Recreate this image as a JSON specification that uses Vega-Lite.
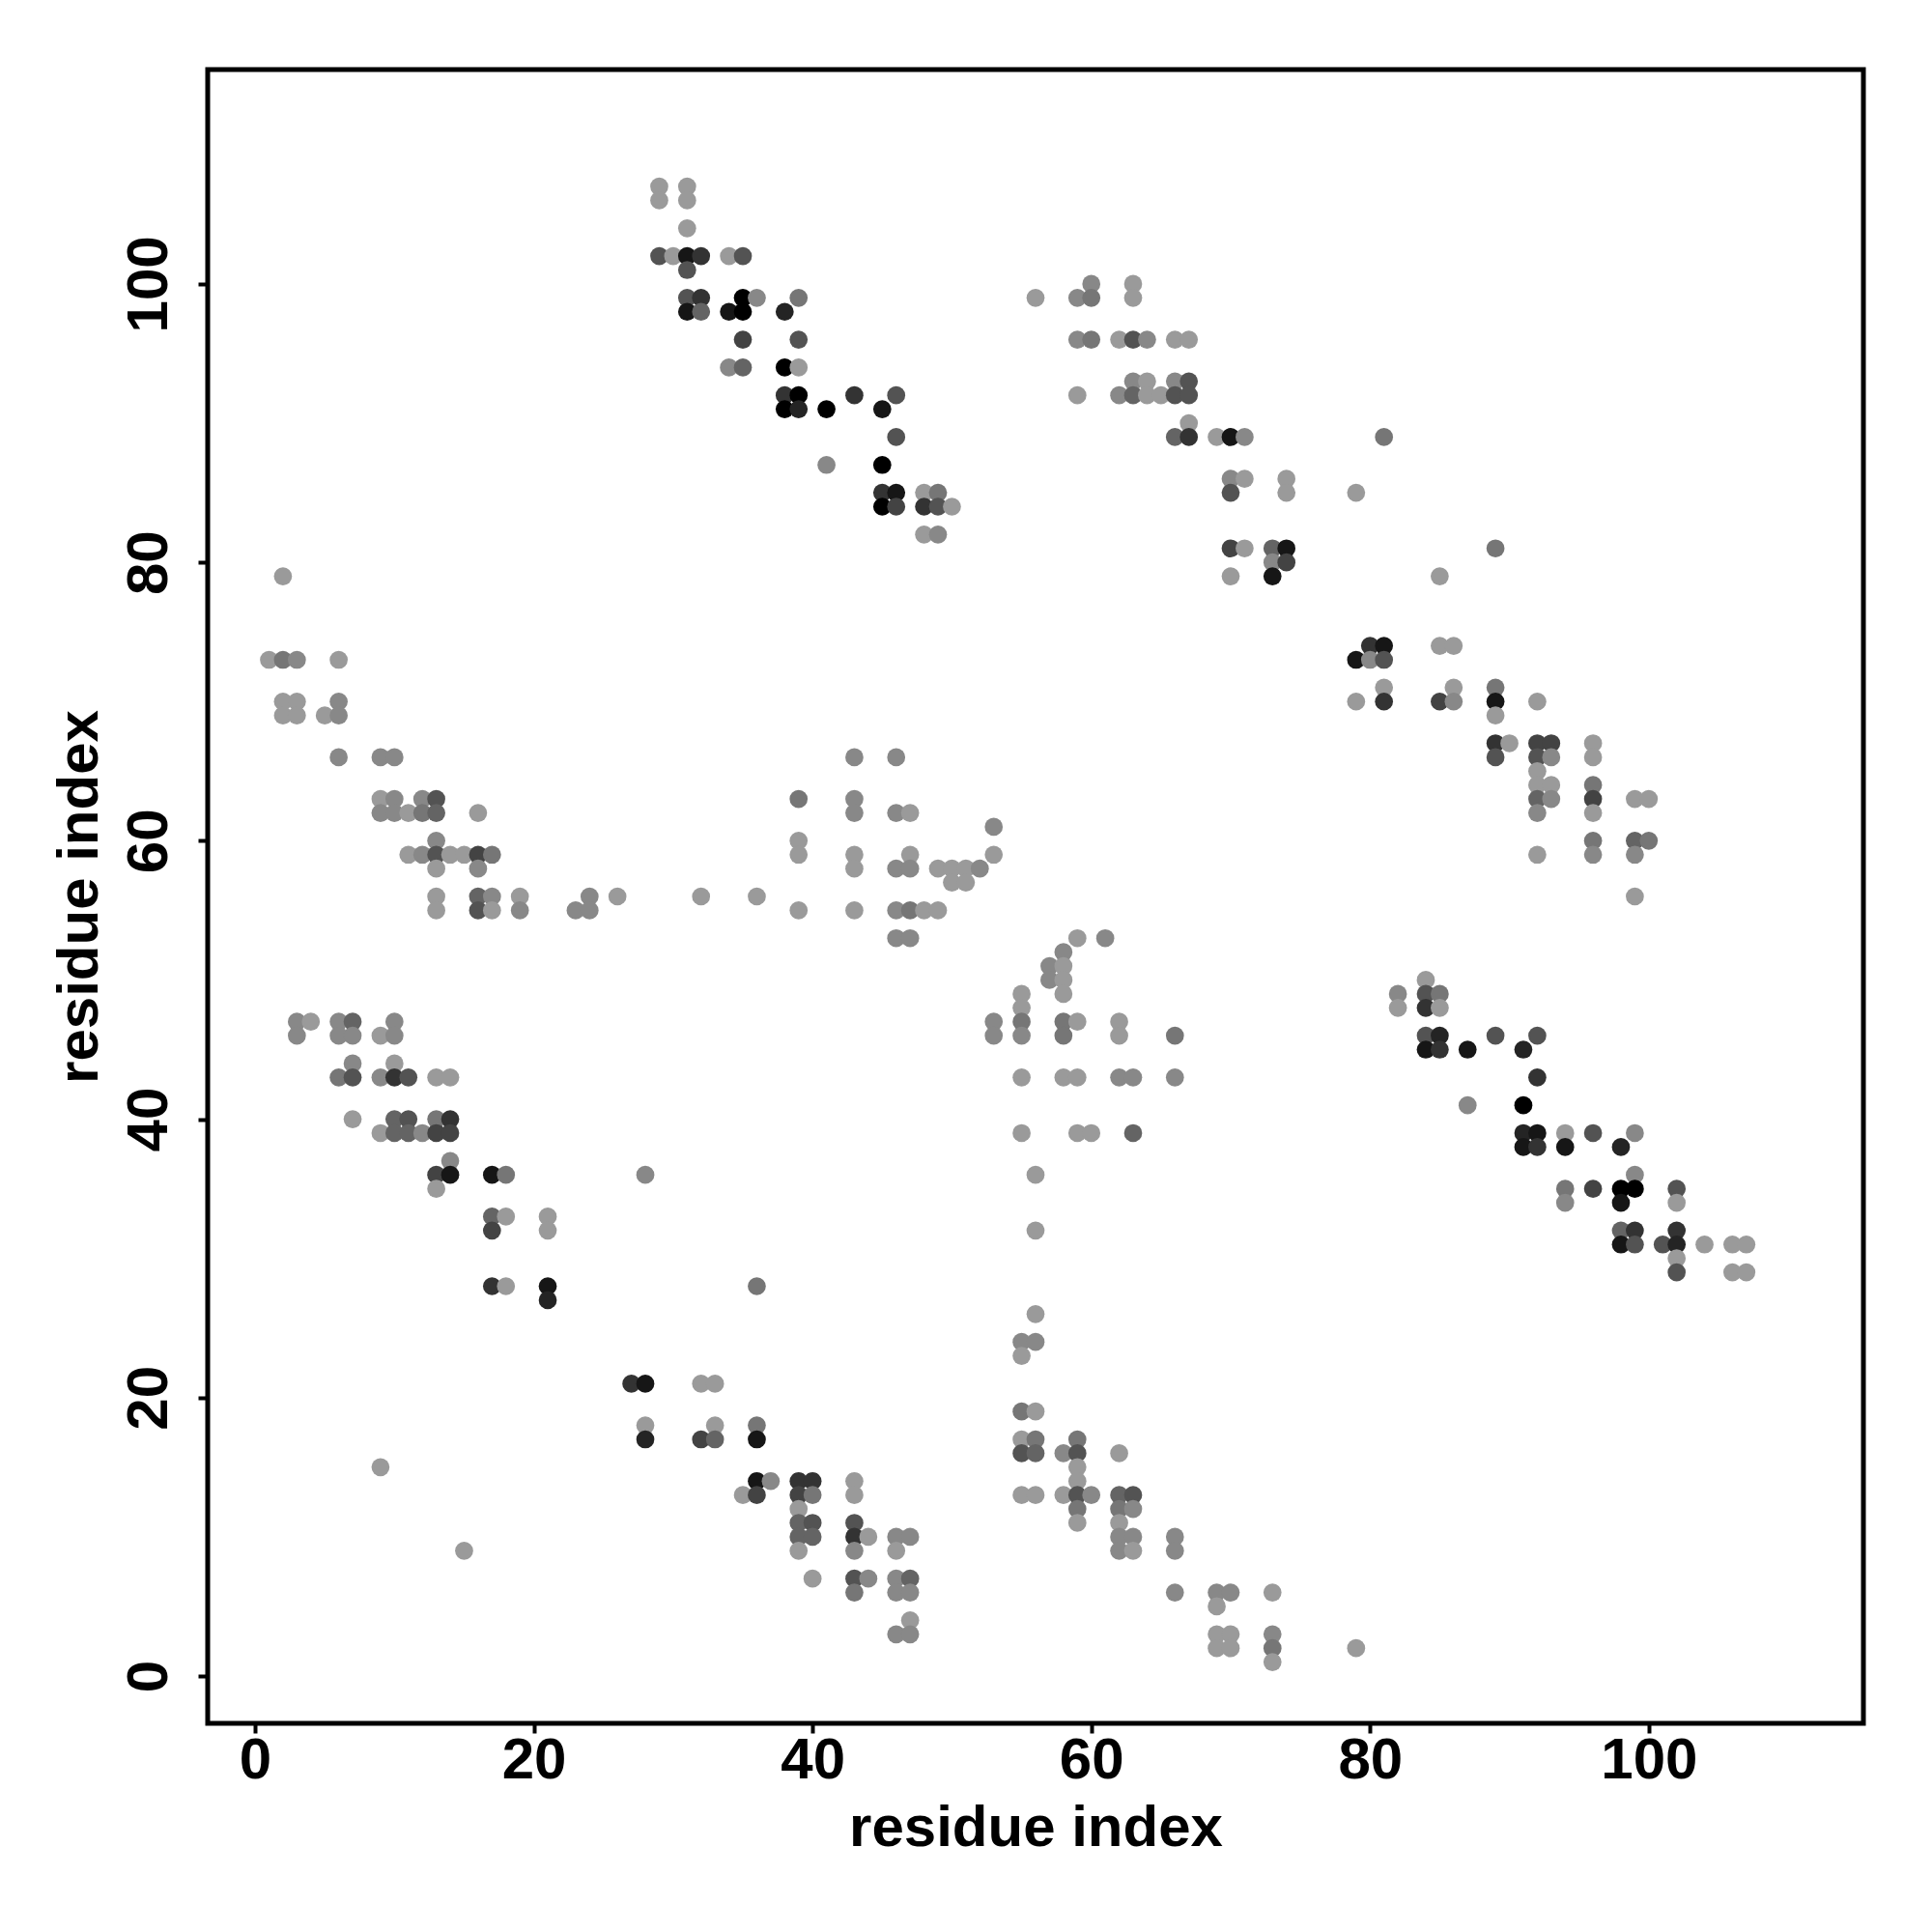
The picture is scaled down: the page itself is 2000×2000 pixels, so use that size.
{
  "$schema": "https://vega.github.io/schema/vega-lite/v6.json",
  "autosize": {"type": "none"},
  "padding": {"left": 215, "top": 72, "right": 71, "bottom": 216},
  "width": 1714,
  "height": 1712,
  "background": "white",
  "config": {
    "view": {"stroke": "#000000", "strokeWidth": 5},
    "font": "Liberation Sans"
  },
  "data": {
    "values": [
      {"x":29,"y":107,"v":0},{"x":31,"y":107,"v":0},{"x":29,"y":106,"v":0},{"x":31,"y":106,"v":0},{"x":31,"y":104,"v":0},
      {"x":29,"y":102,"v":4},{"x":30,"y":102,"v":0},{"x":31,"y":102,"v":8},{"x":32,"y":102,"v":6},{"x":34,"y":102,"v":0},{"x":35,"y":102,"v":4},
      {"x":31,"y":101,"v":4},
      {"x":31,"y":99,"v":4},{"x":32,"y":99,"v":6},{"x":35,"y":99,"v":9},{"x":36,"y":99,"v":1},{"x":39,"y":99,"v":2},
      {"x":31,"y":98,"v":8},{"x":32,"y":98,"v":3},{"x":34,"y":98,"v":8},{"x":35,"y":98,"v":9},{"x":38,"y":98,"v":7},
      {"x":35,"y":96,"v":5},{"x":39,"y":96,"v":4},
      {"x":34,"y":94,"v":1},{"x":35,"y":94,"v":3},{"x":38,"y":94,"v":9},{"x":39,"y":94,"v":0},
      {"x":38,"y":92,"v":6},{"x":39,"y":92,"v":9},{"x":43,"y":92,"v":6},{"x":46,"y":92,"v":4},
      {"x":38,"y":91,"v":9},{"x":39,"y":91,"v":7},{"x":41,"y":91,"v":9},{"x":45,"y":91,"v":8},
      {"x":46,"y":89,"v":4},
      {"x":41,"y":87,"v":1},{"x":45,"y":87,"v":9},
      {"x":45,"y":85,"v":6},{"x":46,"y":85,"v":8},{"x":48,"y":85,"v":0},{"x":49,"y":85,"v":2},
      {"x":45,"y":84,"v":9},{"x":46,"y":84,"v":5},{"x":48,"y":84,"v":6},{"x":49,"y":84,"v":4},{"x":50,"y":84,"v":0},
      {"x":48,"y":82,"v":0},{"x":49,"y":82,"v":1},

      {"x":60,"y":100,"v":1},{"x":63,"y":100,"v":0},
      {"x":56,"y":99,"v":0},{"x":59,"y":99,"v":1},{"x":60,"y":99,"v":2},{"x":63,"y":99,"v":0},
      {"x":59,"y":96,"v":1},{"x":60,"y":96,"v":2},{"x":62,"y":96,"v":0},{"x":63,"y":96,"v":4},{"x":64,"y":96,"v":1},{"x":66,"y":96,"v":0},{"x":67,"y":96,"v":0},
      {"x":63,"y":93,"v":1},{"x":64,"y":93,"v":0},{"x":66,"y":93,"v":1},{"x":67,"y":93,"v":4},
      {"x":59,"y":92,"v":0},{"x":62,"y":92,"v":1},{"x":63,"y":92,"v":3},{"x":64,"y":92,"v":0},{"x":65,"y":92,"v":0},{"x":66,"y":92,"v":4},{"x":67,"y":92,"v":4},
      {"x":67,"y":90,"v":0},
      {"x":66,"y":89,"v":3},{"x":67,"y":89,"v":6},{"x":69,"y":89,"v":0},{"x":70,"y":89,"v":8},{"x":71,"y":89,"v":1},
      {"x":70,"y":86,"v":1},{"x":71,"y":86,"v":0},{"x":74,"y":86,"v":0},
      {"x":70,"y":85,"v":4},{"x":74,"y":85,"v":0},
      {"x":70,"y":81,"v":5},{"x":71,"y":81,"v":0},{"x":73,"y":81,"v":3},{"x":74,"y":81,"v":8},
      {"x":73,"y":80,"v":1},{"x":74,"y":80,"v":5},
      {"x":70,"y":79,"v":0},{"x":73,"y":79,"v":8},
      {"x":79,"y":85,"v":0},{"x":81,"y":89,"v":2},

      {"x":89,"y":81,"v":2},{"x":85,"y":79,"v":0},
      {"x":80,"y":74,"v":6},{"x":81,"y":74,"v":8},{"x":85,"y":74,"v":0},{"x":86,"y":74,"v":0},
      {"x":79,"y":73,"v":8},{"x":80,"y":73,"v":1},{"x":81,"y":73,"v":4},
      {"x":81,"y":71,"v":0},{"x":86,"y":71,"v":0},{"x":89,"y":71,"v":2},
      {"x":79,"y":70,"v":0},{"x":81,"y":70,"v":6},{"x":85,"y":70,"v":5},{"x":86,"y":70,"v":1},{"x":89,"y":70,"v":8},{"x":92,"y":70,"v":0},
      {"x":89,"y":69,"v":0},
      {"x":89,"y":67,"v":6},{"x":90,"y":67,"v":0},{"x":92,"y":67,"v":5},{"x":93,"y":67,"v":5},{"x":96,"y":67,"v":0},
      {"x":89,"y":66,"v":4},{"x":92,"y":66,"v":4},{"x":93,"y":66,"v":1},{"x":96,"y":66,"v":0},
      {"x":92,"y":65,"v":0},
      {"x":92,"y":64,"v":0},{"x":93,"y":64,"v":0},{"x":96,"y":64,"v":2},
      {"x":92,"y":63,"v":3},{"x":93,"y":63,"v":1},{"x":96,"y":63,"v":5},{"x":99,"y":63,"v":0},{"x":100,"y":63,"v":0},
      {"x":92,"y":62,"v":1},{"x":96,"y":62,"v":0},
      {"x":96,"y":60,"v":2},{"x":99,"y":60,"v":3},{"x":100,"y":60,"v":2},
      {"x":92,"y":59,"v":0},{"x":96,"y":59,"v":1},{"x":99,"y":59,"v":1},
      {"x":99,"y":56,"v":0},

      {"x":2,"y":79,"v":0},
      {"x":1,"y":73,"v":0},{"x":2,"y":73,"v":2},{"x":3,"y":73,"v":1},{"x":6,"y":73,"v":0},
      {"x":2,"y":70,"v":0},{"x":3,"y":70,"v":0},{"x":6,"y":70,"v":1},
      {"x":2,"y":69,"v":0},{"x":3,"y":69,"v":0},{"x":5,"y":69,"v":0},{"x":6,"y":69,"v":1},
      {"x":6,"y":66,"v":1},{"x":9,"y":66,"v":1},{"x":10,"y":66,"v":1},
      {"x":9,"y":63,"v":0},{"x":10,"y":63,"v":1},{"x":12,"y":63,"v":1},{"x":13,"y":63,"v":4},
      {"x":9,"y":62,"v":1},{"x":10,"y":62,"v":1},{"x":11,"y":62,"v":0},{"x":12,"y":62,"v":2},{"x":13,"y":62,"v":3},{"x":16,"y":62,"v":0},
      {"x":13,"y":60,"v":1},
      {"x":11,"y":59,"v":0},{"x":12,"y":59,"v":1},{"x":13,"y":59,"v":4},{"x":14,"y":59,"v":0},{"x":15,"y":59,"v":0},{"x":16,"y":59,"v":5},{"x":17,"y":59,"v":2},
      {"x":13,"y":58,"v":0},{"x":16,"y":58,"v":1},
      {"x":13,"y":56,"v":0},{"x":16,"y":56,"v":3},{"x":17,"y":56,"v":1},{"x":19,"y":56,"v":0},{"x":24,"y":56,"v":1},{"x":26,"y":56,"v":0},
      {"x":13,"y":55,"v":0},{"x":16,"y":55,"v":4},{"x":17,"y":55,"v":0},{"x":19,"y":55,"v":1},{"x":23,"y":55,"v":1},{"x":24,"y":55,"v":1},

      {"x":43,"y":66,"v":1},{"x":46,"y":66,"v":1},
      {"x":39,"y":63,"v":2},{"x":43,"y":63,"v":1},
      {"x":43,"y":62,"v":1},{"x":46,"y":62,"v":1},{"x":47,"y":62,"v":0},
      {"x":53,"y":61,"v":1},
      {"x":39,"y":60,"v":0},
      {"x":39,"y":59,"v":0},{"x":43,"y":59,"v":0},{"x":47,"y":59,"v":0},{"x":53,"y":59,"v":0},
      {"x":43,"y":58,"v":0},{"x":46,"y":58,"v":1},{"x":47,"y":58,"v":1},{"x":49,"y":58,"v":0},{"x":50,"y":58,"v":0},{"x":51,"y":58,"v":0},{"x":52,"y":58,"v":1},
      {"x":50,"y":57,"v":0},{"x":51,"y":57,"v":0},
      {"x":32,"y":56,"v":0},{"x":36,"y":56,"v":0},
      {"x":39,"y":55,"v":0},{"x":43,"y":55,"v":0},{"x":46,"y":55,"v":1},{"x":47,"y":55,"v":2},{"x":48,"y":55,"v":0},{"x":49,"y":55,"v":0},
      {"x":46,"y":53,"v":1},{"x":47,"y":53,"v":1},

      {"x":3,"y":47,"v":1},{"x":4,"y":47,"v":0},{"x":6,"y":47,"v":1},{"x":7,"y":47,"v":3},{"x":10,"y":47,"v":1},
      {"x":3,"y":46,"v":1},{"x":6,"y":46,"v":1},{"x":7,"y":46,"v":1},{"x":9,"y":46,"v":0},{"x":10,"y":46,"v":1},
      {"x":7,"y":44,"v":1},{"x":10,"y":44,"v":0},
      {"x":6,"y":43,"v":2},{"x":7,"y":43,"v":4},{"x":9,"y":43,"v":1},{"x":10,"y":43,"v":6},{"x":11,"y":43,"v":4},{"x":13,"y":43,"v":0},{"x":14,"y":43,"v":0},
      {"x":7,"y":40,"v":0},{"x":10,"y":40,"v":3},{"x":11,"y":40,"v":4},{"x":13,"y":40,"v":2},{"x":14,"y":40,"v":6},
      {"x":9,"y":39,"v":0},{"x":10,"y":39,"v":3},{"x":11,"y":39,"v":3},{"x":12,"y":39,"v":1},{"x":13,"y":39,"v":5},{"x":14,"y":39,"v":5},
      {"x":14,"y":37,"v":1},
      {"x":13,"y":36,"v":5},{"x":14,"y":36,"v":8},{"x":17,"y":36,"v":8},{"x":18,"y":36,"v":2},
      {"x":13,"y":35,"v":0},
      {"x":17,"y":33,"v":3},{"x":18,"y":33,"v":0},{"x":21,"y":33,"v":0},
      {"x":17,"y":32,"v":5},{"x":21,"y":32,"v":0},
      {"x":17,"y":28,"v":6},{"x":18,"y":28,"v":0},{"x":21,"y":28,"v":8},
      {"x":21,"y":27,"v":7},

      {"x":59,"y":53,"v":0},{"x":61,"y":53,"v":1},
      {"x":58,"y":52,"v":1},
      {"x":57,"y":51,"v":1},{"x":58,"y":51,"v":0},
      {"x":57,"y":50,"v":1},{"x":58,"y":50,"v":0},
      {"x":55,"y":49,"v":0},{"x":58,"y":49,"v":0},
      {"x":55,"y":48,"v":0},
      {"x":53,"y":47,"v":1},{"x":55,"y":47,"v":2},{"x":58,"y":47,"v":2},{"x":59,"y":47,"v":0},{"x":62,"y":47,"v":0},
      {"x":53,"y":46,"v":1},{"x":55,"y":46,"v":1},{"x":58,"y":46,"v":2},{"x":62,"y":46,"v":0},{"x":66,"y":46,"v":2},
      {"x":55,"y":43,"v":0},{"x":58,"y":43,"v":0},{"x":59,"y":43,"v":0},{"x":62,"y":43,"v":1},{"x":63,"y":43,"v":1},{"x":66,"y":43,"v":1},
      {"x":55,"y":39,"v":0},{"x":59,"y":39,"v":0},{"x":60,"y":39,"v":0},{"x":63,"y":39,"v":3},
      {"x":56,"y":36,"v":0},{"x":56,"y":32,"v":0},

      {"x":84,"y":50,"v":0},
      {"x":82,"y":49,"v":1},{"x":84,"y":49,"v":4},{"x":85,"y":49,"v":2},
      {"x":82,"y":48,"v":0},{"x":84,"y":48,"v":6},{"x":85,"y":48,"v":0},
      {"x":84,"y":46,"v":4},{"x":85,"y":46,"v":7},{"x":89,"y":46,"v":4},{"x":92,"y":46,"v":4},
      {"x":84,"y":45,"v":8},{"x":85,"y":45,"v":6},{"x":87,"y":45,"v":8},{"x":91,"y":45,"v":7},
      {"x":92,"y":43,"v":6},
      {"x":87,"y":41,"v":1},{"x":91,"y":41,"v":9},
      {"x":91,"y":39,"v":7},{"x":92,"y":39,"v":8},{"x":94,"y":39,"v":0},{"x":96,"y":39,"v":4},{"x":99,"y":39,"v":1},
      {"x":91,"y":38,"v":8},{"x":92,"y":38,"v":6},{"x":94,"y":38,"v":8},{"x":98,"y":38,"v":7},
      {"x":99,"y":36,"v":1},
      {"x":94,"y":35,"v":2},{"x":96,"y":35,"v":5},{"x":98,"y":35,"v":9},{"x":99,"y":35,"v":9},{"x":102,"y":35,"v":4},
      {"x":94,"y":34,"v":1},{"x":98,"y":34,"v":8},{"x":102,"y":34,"v":0},
      {"x":98,"y":32,"v":3},{"x":99,"y":32,"v":6},{"x":102,"y":32,"v":6},
      {"x":98,"y":31,"v":8},{"x":99,"y":31,"v":4},{"x":101,"y":31,"v":4},{"x":102,"y":31,"v":7},{"x":104,"y":31,"v":0},{"x":106,"y":31,"v":0},{"x":107,"y":31,"v":0},
      {"x":102,"y":30,"v":0},
      {"x":102,"y":29,"v":4},{"x":106,"y":29,"v":0},{"x":107,"y":29,"v":0},

      {"x":28,"y":36,"v":1},{"x":36,"y":28,"v":2},
      {"x":27,"y":21,"v":6},{"x":28,"y":21,"v":8},{"x":32,"y":21,"v":0},{"x":33,"y":21,"v":0},
      {"x":28,"y":18,"v":0},{"x":33,"y":18,"v":0},{"x":36,"y":18,"v":2},
      {"x":28,"y":17,"v":7},{"x":32,"y":17,"v":5},{"x":33,"y":17,"v":3},{"x":36,"y":17,"v":8},
      {"x":36,"y":14,"v":8},{"x":37,"y":14,"v":1},{"x":39,"y":14,"v":6},{"x":40,"y":14,"v":6},{"x":43,"y":14,"v":0},
      {"x":35,"y":13,"v":0},{"x":36,"y":13,"v":5},{"x":39,"y":13,"v":5},{"x":40,"y":13,"v":2},{"x":43,"y":13,"v":0},
      {"x":39,"y":12,"v":0},
      {"x":39,"y":11,"v":3},{"x":40,"y":11,"v":4},{"x":43,"y":11,"v":4},
      {"x":39,"y":10,"v":3},{"x":40,"y":10,"v":3},{"x":43,"y":10,"v":6},{"x":44,"y":10,"v":0},{"x":46,"y":10,"v":1},{"x":47,"y":10,"v":1},
      {"x":39,"y":9,"v":0},{"x":43,"y":9,"v":1},{"x":46,"y":9,"v":0},
      {"x":40,"y":7,"v":0},{"x":43,"y":7,"v":4},{"x":44,"y":7,"v":1},{"x":46,"y":7,"v":1},{"x":47,"y":7,"v":3},
      {"x":43,"y":6,"v":2},{"x":46,"y":6,"v":1},{"x":47,"y":6,"v":1},
      {"x":47,"y":4,"v":0},
      {"x":46,"y":3,"v":1},{"x":47,"y":3,"v":1},
      {"x":9,"y":15,"v":0},{"x":15,"y":9,"v":0},

      {"x":56,"y":26,"v":0},
      {"x":55,"y":24,"v":1},{"x":56,"y":24,"v":1},
      {"x":55,"y":23,"v":0},
      {"x":55,"y":19,"v":2},{"x":56,"y":19,"v":0},
      {"x":55,"y":17,"v":0},{"x":56,"y":17,"v":2},{"x":59,"y":17,"v":2},
      {"x":55,"y":16,"v":4},{"x":56,"y":16,"v":3},{"x":58,"y":16,"v":1},{"x":59,"y":16,"v":4},{"x":62,"y":16,"v":0},
      {"x":59,"y":15,"v":0},{"x":59,"y":14,"v":0},
      {"x":55,"y":13,"v":0},{"x":56,"y":13,"v":0},{"x":58,"y":13,"v":0},{"x":59,"y":13,"v":4},{"x":60,"y":13,"v":1},{"x":62,"y":13,"v":3},{"x":63,"y":13,"v":4},
      {"x":59,"y":12,"v":2},{"x":62,"y":12,"v":2},{"x":63,"y":12,"v":1},
      {"x":59,"y":11,"v":0},{"x":62,"y":11,"v":0},
      {"x":62,"y":10,"v":1},{"x":63,"y":10,"v":1},{"x":66,"y":10,"v":1},
      {"x":62,"y":9,"v":1},{"x":63,"y":9,"v":0},{"x":66,"y":9,"v":1},
      {"x":66,"y":6,"v":1},{"x":69,"y":6,"v":1},{"x":70,"y":6,"v":1},{"x":73,"y":6,"v":0},
      {"x":69,"y":5,"v":0},
      {"x":69,"y":3,"v":0},{"x":70,"y":3,"v":0},{"x":73,"y":3,"v":1},
      {"x":69,"y":2,"v":0},{"x":70,"y":2,"v":0},{"x":73,"y":2,"v":2},{"x":79,"y":2,"v":0},
      {"x":73,"y":1,"v":0}
    ]
  },
  "mark": {"type": "point", "shape": "circle", "filled": true, "size": 350, "opacity": 1, "strokeWidth": 0},
  "encoding": {
    "x": {
      "field": "x", "type": "quantitative",
      "scale": {"domain": [-3.4, 115.4], "nice": false, "zero": false},
      "axis": {
        "title": "residue index", "values": [0, 20, 40, 60, 80, 100],
        "grid": false, "domain": false,
        "tickColor": "#000000", "tickWidth": 4, "tickSize": 10,
        "labelFont": "Liberation Sans", "labelFontWeight": "bold", "labelFontSize": 60, "labelColor": "#000000",
        "labelBaseline": "alphabetic", "labelPadding": 46, "labelFlush": false, "labelOverlap": false,
        "titleFont": "Liberation Sans", "titleFontWeight": "bold", "titleFontSize": 60, "titleColor": "#000000",
        "titleBaseline": "alphabetic", "titleY": 126, "titleX": 857, "titleAlign": "center"
      }
    },
    "y": {
      "field": "y", "type": "quantitative",
      "scale": {"domain": [-3.4, 115.4], "nice": false, "zero": false},
      "axis": {
        "title": "residue index", "values": [0, 20, 40, 60, 80, 100],
        "grid": false, "domain": false,
        "tickColor": "#000000", "tickWidth": 4, "tickSize": 10,
        "labelFont": "Liberation Sans", "labelFontWeight": "bold", "labelFontSize": 60, "labelColor": "#000000",
        "labelAngle": 270, "labelAlign": "center", "labelBaseline": "alphabetic", "labelPadding": 33,
        "labelFlush": false, "labelOverlap": false,
        "titleFont": "Liberation Sans", "titleFontWeight": "bold", "titleFontSize": 60, "titleColor": "#000000",
        "titleAngle": 270, "titleBaseline": "alphabetic", "titleAlign": "center", "titleX": -115, "titleY": 856
      }
    },
    "color": {
      "field": "v", "type": "quantitative",
      "scale": {"domain": [0, 9], "range": ["#9a9a9a", "#000000"]},
      "legend": null
    }
  }
}
